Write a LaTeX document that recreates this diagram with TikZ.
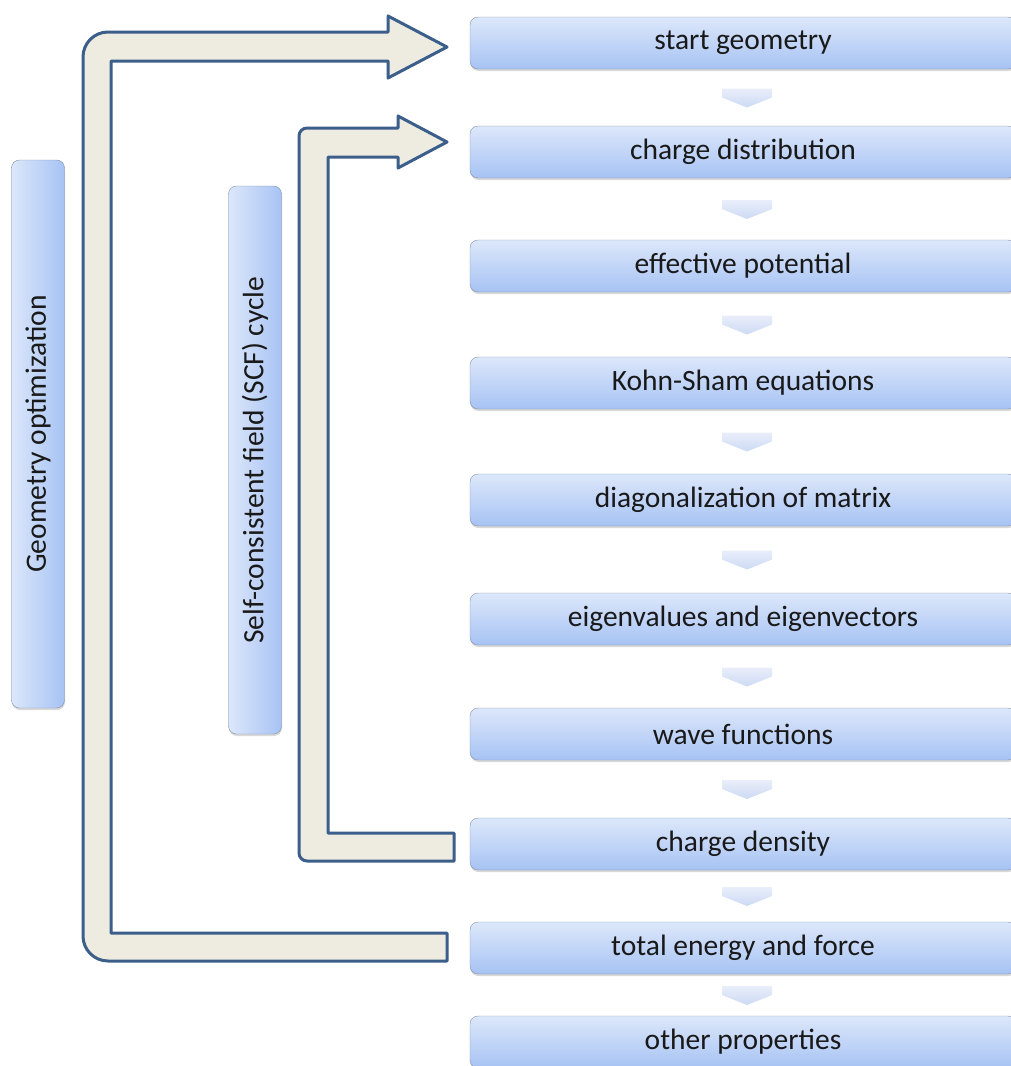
\documentclass[tikz,border=0pt]{standalone}
\usepackage{fontspec}
\setmainfont{Carlito}
\usetikzlibrary{calc,shadows}

\definecolor{boxtop}{HTML}{DCE7FA}
\definecolor{boxbot}{HTML}{A7C3F4}
\definecolor{boxline}{HTML}{8391A8}
\definecolor{cyclefill}{HTML}{EEECE1}
\definecolor{cycleline}{HTML}{3B5E8B}
\definecolor{chevtop}{HTML}{E9EEFA}
\definecolor{chevbot}{HTML}{CCDAF4}

\begin{document}
\begin{tikzpicture}[x=1pt, y=-1pt,
	stepbox/.style={rectangle, rounded corners=8pt, draw=boxline, top color=boxtop, bottom color=boxbot,
		minimum width=546pt, minimum height=52pt, font=\fontsize{29.5}{35}\selectfont, text=black!90,
		drop shadow={shadow xshift=0.5pt, shadow yshift=-2pt, opacity=0.3}},
	sidebox/.style={stepbox, left color=boxtop, right color=boxbot, rotate=90,
		minimum width=548pt, minimum height=53pt},
	chev/.style={top color=chevtop, bottom color=chevbot},
	cyclearrow/.style={draw=cycleline, line width=3pt, line join=round, fill=cyclefill}]
	\useasboundingbox (0,0) rectangle (1011,1066);

	% loops
	\draw[cyclearrow] (300,933) -- (111,933) -- (111,61) -- (388,61) -- (388,78) -- (447,47)
		-- (388,16) -- (388,32) -- (200,32) [rounded corners=25pt] -- (83,32) -- (83,961)
		-- (200,961) [sharp corners] -- (447,961) -- (447,933) -- cycle;
	\draw[cyclearrow] (380,833) -- (328,833) -- (328,157) -- (398,157) -- (398,168) -- (447,142)
		-- (398,116) -- (398,128) -- (350,128) [rounded corners=8pt] -- (299,128) -- (299,861)
		-- (350,861) [sharp corners] -- (454,861) -- (454,833) -- cycle;

	\draw
	(38, 434) node [sidebox] (geoopt) {Geometry optimization}
	(255, 460) node [sidebox] (scf) {Self-consistent field (SCF) cycle};

	\draw
	(743, 43) node [stepbox] (start) {start geometry}
	(743, 152) node [stepbox] (chdist) {charge distribution}
	(743, 266) node [stepbox] (effpot) {effective potential}
	(743, 383) node [stepbox] (kohn) {Kohn-Sham equations}
	(743, 500) node [stepbox] (diag) {diagonalization of matrix}
	(743, 619) node [stepbox] (eigen) {eigenvalues and eigenvectors}
	(743, 734) node [stepbox] (wave) {wave functions}
	(743, 844) node [stepbox] (density) {charge density}
	(743, 948) node [stepbox] (energy) {total energy and force}
	(743, 1042) node [stepbox] (other) {other properties};

	\foreach \a/\b in {start/chdist, chdist/effpot, effpot/kohn, kohn/diag, diag/eigen,
		eigen/wave, wave/density, density/energy, energy/other}
		\shade[chev] ($(\a.south)!0.5!(\b.north)$) +(-21,-9) -- +(29,-9) -- +(29,0)
			-- +(4,10) -- +(-21,0) -- cycle;
\end{tikzpicture}
\end{document}
